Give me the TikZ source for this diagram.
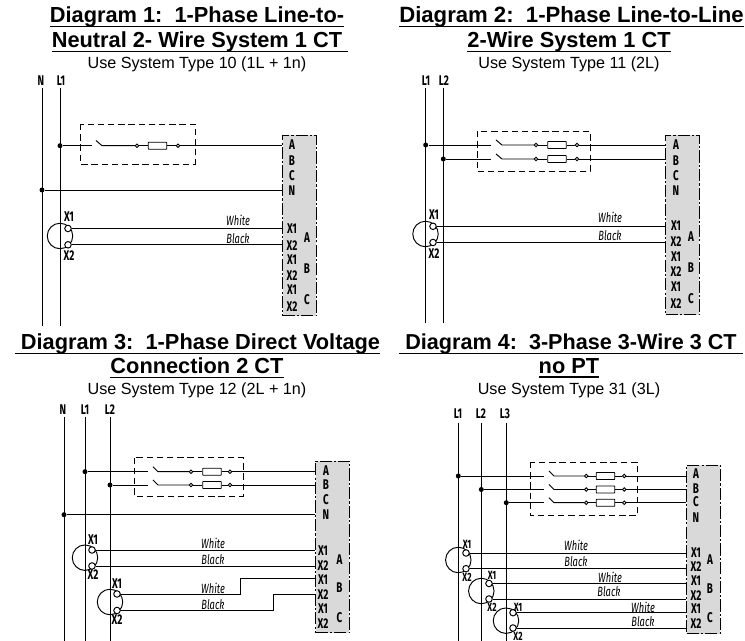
\documentclass[tikz,border=0pt]{standalone}
\usepackage{fontspec}
\setmainfont{Liberation Sans}
\newfontfamily\condfont[FakeStretch=0.7]{Fira Sans}
\newcommand{\uline}[1]{\setbox0\hbox{#1}\rlap{\vrule width\wd0 height -1.7pt depth 2.6pt}\box0}
\begin{document}
\begin{tikzpicture}[x=0.02cm,y=-0.02cm]
	\tikzstyle{ttl} = [inner sep=0, font=\fontsize{12.4}{14}\selectfont\bfseries]
	\tikzstyle{sub} = [inner sep=0, font=\fontsize{9.2}{11}\selectfont]
	\tikzstyle{lab} = [inner sep=0, font=\fontsize{8}{9}\selectfont\condfont\bfseries]
	\tikzstyle{sml} = [inner sep=0, font=\fontsize{6.8}{8}\selectfont\condfont\bfseries]
	\tikzstyle{col} = [inner sep=0, font=\fontsize{7.6}{8}\selectfont\condfont\itshape]
	\tikzstyle{dot} = [circle, fill=black, inner sep=0, minimum size=0.1cm]
	\tikzstyle{ring} = [circle, draw, fill=white, line width=0.5pt, inner sep=0, minimum size=0.07cm]
	\tikzstyle{ctx} = [circle, draw, fill=white, line width=0.55pt, inner sep=0, minimum size=0.13cm]
	\tikzstyle{ct} = [circle, draw, line width=0.55pt, inner sep=0, minimum size=0.51cm]
	\tikzstyle{fuse} = [draw, fill=white, rounded corners=0.3pt, line width=0.5pt, inner sep=0, minimum width=0.37cm, minimum height=0.14cm]
	\tikzstyle{tbox} = [fill=black!15, draw, line width=0.55pt, dash pattern=on 7pt off 1.2pt on 1.2pt off 1.2pt, inner sep=0, minimum width=0.68cm]
	\tikzstyle{guard} = [draw, line width=0.55pt, dash pattern=on 3.6pt off 2.2pt, inner sep=0]
	\tikzstyle{wire} = [line width=0.55pt]
	\useasboundingbox (0,0) rectangle (745,641);

	% titles
	\node [ttl] (t1a) at (197,17) {\uline{Diagram 1:\ \ 1-Phase Line-to-}};
	\node [ttl] (t1b) at (200,42) {\uline{Neutral 2- Wire System 1 CT\ }};
	\node [sub] (u1) at (197,64) {Use System Type 10 (1L + 1n)};
	\node [ttl, font=\fontsize{12.6}{14}\selectfont\bfseries] (t2a) at (571.5,17) {\uline{Diagram 2:\ \ 1-Phase Line-to-Line}};
	\node [ttl] (t2b) at (569,42) {\uline{2-Wire System 1 CT}};
	\node [sub] (u2) at (569,64) {Use System Type 11 (2L)};
	\node [ttl] (t3a) at (197.5,344) {\uline{\ Diagram 3:\ \ 1-Phase Direct Voltage}};
	\node [ttl] (t3b) at (197,368) {\uline{Connection 2 CT}};
	\node [sub] (u3) at (197,390) {Use System Type 12 (2L + 1n)};
	\node [ttl, font=\fontsize{12.3}{14}\selectfont\bfseries] (t4a) at (571,344) {\uline{\ Diagram 4:\ \ 3-Phase 3-Wire 3 CT\ }};
	\node [ttl] (t4b) at (569,368) {\uline{no PT}};
	\node [sub] (u4) at (569,390) {Use System Type 31 (3L)};

	% diagram 1
	\node [lab] (n1) at (41,81) {N};
	\node [lab] (l1) at (61,81) {L1};
	\coordinate (n1e) at (42,326);
	\coordinate (l1e) at (60,326);
	\node [tbox, minimum height=3.62cm] (tb1) at (299.5,225.5) {};
	\draw [wire] (n1e |- 0,88) -- (n1e);
	\draw [wire] (l1e |- 0,88) -- (l1e);
	\node [dot] (j1) at (60,145.7) {};
	\node [dot] (j2) at (42,190) {};
	\coordinate (a1) at (92,145.7);
	\coordinate (b1) at (96,140.5);
	\coordinate (c1) at (102,145.7);
	\node [ring] (k1) at (137,145.7) {};
	\node [fuse] (f1) at (157.5,145.7) {};
	\node [ring] (m1) at (178,145.7) {};
	\draw [wire] (j1) -- (a1);
	\draw [wire] (b1) -- (c1) -- (k1);
	\draw [wire] (k1) -- (f1);
	\draw [wire] (f1) -- (m1);
	\draw [wire] (m1) -- (m1 -| tb1.west);
	\draw [wire] (j2) -- (j2 -| tb1.west);
	\draw [guard] (80.5,124) rectangle (195,164);
	\node [ct] (ct1) at (60,236) {};
	\node [ctx] (x1) at (68,228.5) {};
	\node [ctx] (y1) at (68,244.8) {};
	\draw [wire] (x1) -- (x1 -| tb1.west);
	\draw [wire] (y1) -- (y1 -| tb1.west);
	\node [lab] (xl1) at (69,217) {X1};
	\node [lab] (yl1) at (69,256) {X2};
	\node [col] (w1) at (238,220) {White};
	\node [col] (k2) at (238,238.5) {Black};
	\node [lab] (ta1) at (292,145) {A};
	\node [lab] (tb1b) at (292,161) {B};
	\node [lab] (tc1) at (292,176) {C};
	\node [lab] (tn1) at (292,191) {N};
	\node [lab] (p1) at (292,229) {X1};
	\node [lab] (p2) at (292,246) {X2};
	\node [lab] (p3) at (292,260) {X1};
	\node [lab] (p4) at (292,276) {X2};
	\node [lab] (p5) at (292,290) {X1};
	\node [lab] (p6) at (292,307) {X2};
	\node [lab] (pa1) at (307,238) {A};
	\node [lab] (pb1) at (307,269) {B};
	\node [lab] (pc1) at (307,300) {C};

	% diagram 2
	\node [lab] (l2a) at (426,81) {L1};
	\node [lab] (l2b) at (444,81) {L2};
	\coordinate (l2ae) at (425.7,323);
	\coordinate (l2be) at (443.3,323);
	\node [tbox, minimum height=3.6cm] (tb2) at (682.5,225) {};
	\draw [wire] (l2ae |- 0,88) -- (l2ae);
	\draw [wire] (l2be |- 0,88) -- (l2be);
	\node [dot] (j3) at (425.7,145) {};
	\node [dot] (j4) at (443.3,159) {};
	\coordinate (a2) at (491,145);
	\coordinate (b2) at (496,140);
	\coordinate (c2) at (502,145);
	\node [ring] (k3) at (536,145) {};
	\node [fuse] (f2) at (557,145) {};
	\node [ring] (m2) at (577,145) {};
	\coordinate (a3) at (491,159);
	\coordinate (b3) at (496,154);
	\coordinate (c3) at (502,159);
	\node [ring] (k4) at (536,159) {};
	\node [fuse] (f3) at (557,159) {};
	\node [ring] (m3) at (577,159) {};
	\draw [wire] (j3) -- (a2);
	\draw [wire] (b2) -- (c2) -- (k3);
	\draw [wire] (k3) -- (f2);
	\draw [wire] (f2) -- (m2);
	\draw [wire] (m2) -- (m2 -| tb2.west);
	\draw [wire] (j4) -- (a3);
	\draw [wire] (b3) -- (c3) -- (k4);
	\draw [wire] (k4) -- (f3);
	\draw [wire] (f3) -- (m3);
	\draw [wire] (m3) -- (m3 -| tb2.west);
	\draw [guard] (477,131) rectangle (590,171);
	\node [ct] (ct2) at (425.5,234) {};
	\node [ctx] (x2) at (433,226.3) {};
	\node [ctx] (y2) at (433,242.5) {};
	\draw [wire] (x2) -- (x2 -| tb2.west);
	\draw [wire] (y2) -- (y2 -| tb2.west);
	\node [lab] (xl2) at (434,215) {X1};
	\node [lab] (yl2) at (434,254) {X2};
	\node [col] (w2) at (610,217) {White};
	\node [col] (k5) at (610,236) {Black};
	\node [lab] (ta2) at (676,145) {A};
	\node [lab] (tb2b) at (676,161) {B};
	\node [lab] (tc2) at (676,176) {C};
	\node [lab] (tn2) at (676,191) {N};
	\node [lab] (q1) at (676,226) {X1};
	\node [lab] (q2) at (676,241.5) {X2};
	\node [lab] (q3) at (676,257) {X1};
	\node [lab] (q4) at (676,272) {X2};
	\node [lab] (q5) at (676,287) {X1};
	\node [lab] (q6) at (676,304) {X2};
	\node [lab] (pa2) at (691,237) {A};
	\node [lab] (pb2) at (691,268) {B};
	\node [lab] (pc2) at (691,299) {C};

	% diagram 3
	\node [lab] (n3) at (63,410) {N};
	\node [lab] (l3a) at (85,410) {L1};
	\node [lab] (l3b) at (110,410) {L2};
	\coordinate (n3e) at (64,641);
	\coordinate (l3ae) at (85,641);
	\coordinate (l3be) at (110,641);
	\node [tbox, minimum height=3.44cm] (tb3) at (332.5,547) {};
	\draw [wire] (n3e |- 0,417) -- (n3e);
	\draw [wire] (l3ae |- 0,417) -- (l3ae);
	\draw [wire] (l3be |- 0,417) -- (l3be);
	\node [dot] (j5) at (85,471.7) {};
	\node [dot] (j6) at (110,485) {};
	\node [dot] (j7) at (64,514.7) {};
	\coordinate (a4) at (148,471.7);
	\coordinate (b4) at (153,466.7);
	\coordinate (c4) at (158,471.7);
	\node [ring] (k6) at (191,471.7) {};
	\node [fuse] (f4) at (212,471.7) {};
	\node [ring] (m4) at (230,471.7) {};
	\coordinate (a5) at (148,485);
	\coordinate (b5) at (153,480);
	\coordinate (c5) at (158,485);
	\node [ring] (k7) at (191,485) {};
	\node [fuse] (f5) at (212,485) {};
	\node [ring] (m5) at (230,485) {};
	\draw [wire] (j5) -- (a4);
	\draw [wire] (b4) -- (c4) -- (k6);
	\draw [wire] (k6) -- (f4);
	\draw [wire] (f4) -- (m4);
	\draw [wire] (m4) -- (m4 -| tb3.west);
	\draw [wire] (j6) -- (a5);
	\draw [wire] (b5) -- (c5) -- (k7);
	\draw [wire] (k7) -- (f5);
	\draw [wire] (f5) -- (m5);
	\draw [wire] (m5) -- (m5 -| tb3.west);
	\draw [wire] (j7) -- (j7 -| tb3.west);
	\draw [guard] (134.5,457.7) rectangle (243,496);
	\node [ct] (ct3) at (85,557.7) {};
	\node [ctx] (x3) at (92,550) {};
	\node [ctx] (y3) at (92,566) {};
	\node [ct] (ct4) at (110,602) {};
	\node [ctx] (x4) at (117,594) {};
	\node [ctx] (y4) at (117,610.5) {};
	\coordinate (v1) at (240.7,578);
	\coordinate (v2) at (273.3,594.3);
	\draw [wire] (x3) -- (x3 -| tb3.west);
	\draw [wire] (y3) -- (y3 -| tb3.west);
	\draw [wire] (x4) -| (v1) -- (v1 -| tb3.west);
	\draw [wire] (y4) -| (v2) -- (v2 -| tb3.west);
	\node [lab] (xl3) at (93,539.5) {X1};
	\node [lab] (yl3) at (93,575) {X2};
	\node [lab] (xl4) at (117,584) {X1};
	\node [lab] (yl4) at (117,620) {X2};
	\node [col] (w3) at (213,543) {White};
	\node [col] (k8) at (213,560) {Black};
	\node [col] (w4) at (213,588) {White};
	\node [col] (k9) at (213,605) {Black};
	\node [lab] (ta3) at (326,471) {A};
	\node [lab] (tb3b) at (326,485) {B};
	\node [lab] (tc3) at (326,500) {C};
	\node [lab] (tn3) at (326,515) {N};
	\node [lab] (r1) at (323,551) {X1};
	\node [lab] (r2) at (323,566) {X2};
	\node [lab] (r3) at (323,580) {X1};
	\node [lab] (r4) at (323,595) {X2};
	\node [lab] (r5) at (323,609) {X1};
	\node [lab] (r6) at (323,624) {X2};
	\node [lab] (pa3) at (339.5,560) {A};
	\node [lab] (pb3) at (339.5,588) {B};
	\node [lab] (pc3) at (339.5,618) {C};

	% diagram 4
	\node [lab] (l4a) at (458,414) {L1};
	\node [lab] (l4b) at (481,414) {L2};
	\node [lab] (l4c) at (505,414) {L3};
	\coordinate (l4ae) at (458.3,641);
	\coordinate (l4be) at (481.3,641);
	\coordinate (l4ce) at (506.3,641);
	\node [tbox, minimum height=3.37cm] (tb4) at (703.5,549.3) {};
	\draw [wire] (l4ae |- 0,423) -- (l4ae);
	\draw [wire] (l4be |- 0,423) -- (l4be);
	\draw [wire] (l4ce |- 0,423) -- (l4ce);
	\node [dot] (j8) at (458.3,476) {};
	\node [dot] (j9) at (481.3,489.5) {};
	\node [dot] (j10) at (506.3,502.7) {};
	\coordinate (a6) at (543.7,476);
	\coordinate (b6) at (549,471);
	\coordinate (c6) at (554,476);
	\node [ring] (k10) at (586.3,476) {};
	\node [fuse] (f6) at (605.5,476) {};
	\node [ring] (m6) at (624.3,476) {};
	\coordinate (a7) at (543.7,489.5);
	\coordinate (b7) at (549,484.5);
	\coordinate (c7) at (554,489.5);
	\node [ring] (k11) at (586.3,489.5) {};
	\node [fuse] (f7) at (605.5,489.5) {};
	\node [ring] (m7) at (624.3,489.5) {};
	\coordinate (a8) at (543.7,502.7);
	\coordinate (b8) at (549,497.7);
	\coordinate (c8) at (554,502.7);
	\node [ring] (k12) at (586.3,502.7) {};
	\node [fuse] (f8) at (605.5,502.7) {};
	\node [ring] (m8) at (624.3,502.7) {};
	\draw [wire] (j8) -- (a6);
	\draw [wire] (b6) -- (c6) -- (k10);
	\draw [wire] (k10) -- (f6);
	\draw [wire] (f6) -- (m6);
	\draw [wire] (m6) -- (m6 -| tb4.west);
	\draw [wire] (j9) -- (a7);
	\draw [wire] (b7) -- (c7) -- (k11);
	\draw [wire] (k11) -- (f7);
	\draw [wire] (f7) -- (m7);
	\draw [wire] (m7) -- (m7 -| tb4.west);
	\draw [wire] (j10) -- (a8);
	\draw [wire] (b8) -- (c8) -- (k12);
	\draw [wire] (k12) -- (f8);
	\draw [wire] (f8) -- (m8);
	\draw [wire] (m8) -- (m8 -| tb4.west);
	\draw [guard] (530.3,462) rectangle (637,515.7);
	\node [ct] (ct5) at (458.3,560) {};
	\node [ctx] (x5) at (466,553) {};
	\node [ctx] (y5) at (466,568.7) {};
	\node [ct] (ct6) at (481.3,591) {};
	\node [ctx] (x6) at (489,583.5) {};
	\node [ctx] (y6) at (489,599) {};
	\node [ct] (ct7) at (506,620.7) {};
	\node [ctx] (x7) at (513,612.7) {};
	\node [ctx] (y7) at (513,628) {};
	\draw [wire] (x5) -- (x5 -| tb4.west);
	\draw [wire] (y5) -- (y5 -| tb4.west);
	\draw [wire] (x6) -- (x6 -| tb4.west);
	\draw [wire] (y6) -- (y6 -| tb4.west);
	\draw [wire] (x7) -- (x7 -| tb4.west);
	\draw [wire] (y7) -- (y7 -| tb4.west);
	\node [sml] (xl5) at (467,544.5) {X1};
	\node [sml] (yl5) at (467,577) {X2};
	\node [sml] (xl6) at (492,575) {X1};
	\node [sml] (yl6) at (492,607) {X2};
	\node [sml] (xl7) at (518,607) {X1};
	\node [sml] (yl7) at (518,636) {X2};
	\node [col] (w5) at (576,545) {White};
	\node [col] (k13) at (576,562) {Black};
	\node [col] (w6) at (610,577) {White};
	\node [col] (k14) at (609,592) {Black};
	\node [col] (w7) at (643,607) {White};
	\node [col] (k15) at (643,621.5) {Black};
	\node [lab] (ta4) at (696,474) {A};
	\node [lab] (tb4b) at (696,489) {B};
	\node [lab] (tc4) at (696,502) {C};
	\node [lab] (tn4) at (696,518) {N};
	\node [lab] (s1) at (696,553) {X1};
	\node [lab] (s2) at (696,567) {X2};
	\node [lab] (s3) at (696,581) {X1};
	\node [lab] (s4) at (696,596) {X2};
	\node [lab] (s5) at (696,609) {X1};
	\node [lab] (s6) at (696,624) {X2};
	\node [lab] (pa4) at (710,560) {A};
	\node [lab] (pb4) at (710,589) {B};
	\node [lab] (pc4) at (710,618) {C};
\end{tikzpicture}
\end{document}
